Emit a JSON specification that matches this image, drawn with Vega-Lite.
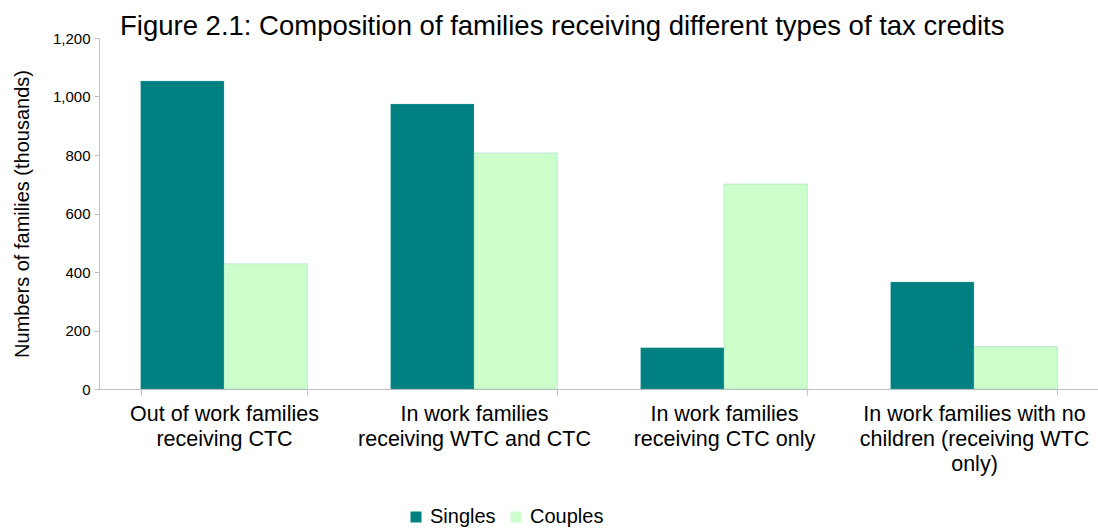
{
  "$schema": "https://vega.github.io/schema/vega-lite/v6.json",
  "width": 1000,
  "height": 351,
  "autosize": {"type": "none"},
  "padding": {"left": 99, "top": 38, "right": 0, "bottom": 142},
  "background": "white",
  "title": {
    "text": "Figure 2.1: Composition of families receiving different types of tax credits",
    "font": "Liberation Sans",
    "fontSize": 27.5,
    "fontWeight": "normal",
    "color": "#000000",
    "anchor": "start",
    "frame": "group",
    "dx": 21,
    "offset": -9
  },
  "data": {
    "values": [
      {"category": "Out of work families receiving CTC", "type": "Singles", "value": 1053},
      {"category": "Out of work families receiving CTC", "type": "Couples", "value": 428},
      {"category": "In work families receiving WTC and CTC", "type": "Singles", "value": 974},
      {"category": "In work families receiving WTC and CTC", "type": "Couples", "value": 807},
      {"category": "In work families receiving CTC only", "type": "Singles", "value": 141},
      {"category": "In work families receiving CTC only", "type": "Couples", "value": 701},
      {"category": "In work families with no children (receiving WTC only)", "type": "Singles", "value": 366},
      {"category": "In work families with no children (receiving WTC only)", "type": "Couples", "value": 145}
    ]
  },
  "mark": {"type": "bar", "stroke": "#6fb8b8", "strokeWidth": 0.5, "strokeOpacity": 0.6},
  "encoding": {
    "x": {
      "field": "category",
      "type": "nominal",
      "sort": null,
      "title": null,
      "scale": {"paddingInner": 0.3333, "paddingOuter": 0.1667},
      "axis": {
        "labelAngle": 0,
        "labelExpr": "datum.value == 'Out of work families receiving CTC' ? ['Out of work families', 'receiving CTC'] : datum.value == 'In work families receiving WTC and CTC' ? ['In work families', 'receiving WTC and CTC'] : datum.value == 'In work families receiving CTC only' ? ['In work families', 'receiving CTC only'] : datum.value == 'In work families with no children (receiving WTC only)' ? ['In work families with no', 'children (receiving WTC', 'only)'] : ''",
        "labelFont": "Liberation Sans",
        "labelFontSize": 21.5,
        "labelColor": "#000000",
        "labelLineHeight": 25,
        "labelPadding": 8,
        "labelLimit": 300,
        "labelOverlap": false,
        "tickBand": "extent",
        "tickSize": 6,
        "tickColor": "#c0c0c0",
        "domainColor": "#c0c0c0",
        "grid": false
      }
    },
    "xOffset": {"field": "type", "type": "nominal", "sort": ["Singles", "Couples"], "scale": {"paddingInner": 0, "paddingOuter": 0}},
    "y": {
      "field": "value",
      "type": "quantitative",
      "title": "Numbers of families (thousands)",
      "scale": {"domain": [0, 1200], "nice": false},
      "axis": {
        "values": [0, 200, 400, 600, 800, 1000, 1200],
        "labelExpr": "format(datum.value, ',')",
        "grid": false,
        "labelFont": "Liberation Sans",
        "labelFontSize": 15,
        "labelColor": "#000000",
        "labelPadding": 4,
        "tickSize": 5,
        "tickColor": "#c0c0c0",
        "domainColor": "#c0c0c0",
        "titleFont": "Liberation Sans",
        "titleFontSize": 20,
        "titleFontWeight": "normal",
        "titleColor": "#000000",
        "titlePadding": 20
      }
    },
    "color": {
      "field": "type",
      "type": "nominal",
      "sort": ["Singles", "Couples"],
      "scale": {"domain": ["Singles", "Couples"], "range": ["#008080", "#CCFFCC"]},
      "legend": {
        "title": null,
        "orient": "none",
        "direction": "horizontal",
        "legendX": 307,
        "legendY": 469,
        "symbolType": "square",
        "symbolSize": 121,
        "symbolStrokeWidth": 0,
        "symbolOpacity": 1,
        "labelFont": "Liberation Sans",
        "labelFontSize": 20,
        "labelColor": "#000000",
        "labelOffset": 4,
        "columnPadding": 10
      }
    }
  },
  "config": {"view": {"stroke": null}}
}
